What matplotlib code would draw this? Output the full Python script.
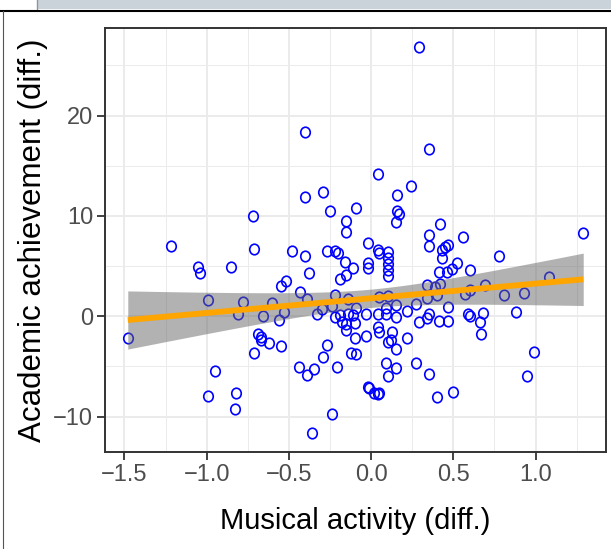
import numpy as np
import matplotlib
matplotlib.use('Agg')
from matplotlib import pyplot
from matplotlib.path import Path
from matplotlib.transforms import Affine2D
from matplotlib.lines import Line2D
from matplotlib.patches import Rectangle
from matplotlib.ticker import MultipleLocator

# values
music_diff = [
    -1.48, -1.22, -1.05, -1.04, -0.99, -0.95, -0.99, -0.82, -0.83, -0.85,
    -0.81, -0.78, -0.72, -0.71, -0.66, -0.69, -0.67, -0.67, -0.62, -0.71,
    -0.60, -0.55, -0.52, -0.55, -0.53, -0.56, -0.48, -0.44, -0.40, -0.40,
    -0.29, -0.25, -0.09, -0.15, -0.15, -0.40, -0.38, -0.43, -0.39, -0.39,
    -0.35, -0.21, -0.24, -0.36, -0.27, -0.22, -0.20, -0.16, -0.11, -0.15,
    -0.19, -0.22, -0.14, -0.33, -0.30, -0.24, -0.22, -0.19, -0.14, -0.11,
    -0.09, -0.18, -0.15, -0.10, -0.27, -0.29, -0.12, -0.09, -0.10, -0.15,
    -0.02, 0.04, 0.05, 0.10, 0.10, 0.10, 0.10, 0.10, -0.02, -0.02,
    0.05, 0.10, -0.03, 0.04, 0.04, 0.05, 0.09, 0.09, 0.15, 0.15,
    -0.03, 0.13, 0.12, 0.10, 0.15, 0.22, 0.09, 0.10, 0.15, 0.27,
    0.35, -0.02, -0.01, 0.02, 0.04, 0.05, 0.40, 0.50, 0.04, 0.24,
    0.16, 0.16, 0.17, 0.15, 0.29, 0.35, 0.42, 0.35, 0.35, 0.56,
    0.43, 0.45, 0.47, 0.43, 0.52, 0.41, 0.46, 0.49, 0.60, 0.34,
    0.39, 0.42, 0.69, 0.78, 1.29, 1.08, 0.40, 0.34, 0.57, 0.60,
    0.81, 0.93, 0.27, 0.22, 0.47, 0.35, 0.34, 0.29, 0.41, 0.47,
    0.59, 0.60, 0.68, 0.66, 0.67, 0.88, 0.99, 0.95,
]
achieve_diff = [
    -2.2, 7.0, 4.9, 4.3, 1.6, -5.5, -7.9, -7.6, -9.2, 4.9,
    0.2, 1.4, 10.0, 6.7, 0.0, -1.8, -2.1, -2.4, -2.7, -3.7,
    1.3, -3.0, 3.5, 3.0, 0.4, -0.4, 6.5, -5.1, 18.4, 11.9,
    12.4, 10.5, 10.8, 9.5, 8.4, 6.0, 4.3, 2.4, 1.7, -5.8,
    -5.3, -5.1, -9.7, -11.6, 6.5, 6.5, 6.3, 5.4, 4.8, 4.1,
    3.7, 2.1, 1.7, 0.2, 0.7, 1.0, -0.1, 0.1, 0.2, 0.1,
    0.8, -0.6, -0.8, -0.7, -2.9, -4.1, -3.7, -3.8, -2.2, -1.4,
    7.3, 6.6, 6.3, 6.4, 5.8, 5.2, 4.6, 4.0, 5.3, 4.8,
    1.9, 2.0, 0.2, 0.2, -1.1, -1.6, 0.8, 0.2, 1.1, -0.1,
    -2.0, -1.6, -2.4, -2.6, -3.3, -2.2, -4.7, -5.9, -5.2, -4.7,
    -5.7, -7.0, -7.1, -7.6, -7.7, -7.6, -8.0, -7.5, 14.2, 13.0,
    12.1, 10.5, 10.2, 9.4, 26.8, 16.7, 9.2, 8.1, 7.0, 7.9,
    6.6, 6.9, 7.1, 5.8, 5.3, 4.4, 4.4, 4.7, 4.6, 3.1,
    2.9, 3.2, 3.1, 6.0, 8.3, 3.9, 2.1, 1.8, 2.2, 2.6,
    2.1, 2.3, 1.2, 0.5, 0.9, 0.2, -0.2, -0.6, -0.5, -0.5,
    0.2, 0.0, 0.3, -0.6, -1.8, 0.4, -3.6, -5.9,
]
x_ticks = [-1.5, -1.0, -0.5, 0.0, 0.5, 1.0]
y_ticks = [-10, 0, 10, 20]
x_title = 'Musical activity (diff.)'
y_title = 'Academic achievement (diff.)'

pyplot.rcParams['font.family'] = ['Liberation Sans', 'DejaVu Sans']

x = np.array(music_diff)
y = np.array(achieve_diff)

# linear fit with 95% confidence band (like geom_smooth(method = "lm"))
n = len(x)
slope, intercept = np.polyfit(x, y, 1)
resid = y - (intercept + slope * x)
s = np.sqrt(np.sum(resid ** 2) / (n - 2))
sxx = np.sum((x - x.mean()) ** 2)
t_crit = 1.975  # t(0.975, ~155 df)
xs = np.linspace(x.min(), x.max(), 100)
fit = intercept + slope * xs
se = s * np.sqrt(1.0 / n + (xs - x.mean()) ** 2 / sxx)

fig = pyplot.figure(figsize=(6.11, 5.49), dpi=100, facecolor='white')
ax = fig.add_axes([105 / 611, (549 - 452) / 549, 501 / 611, 424 / 549])

ell = Path.unit_circle().transformed(Affine2D().scale(0.9, 1.0))
ax.plot(x, y, linestyle='none', marker=ell, markersize=7.6, markerfacecolor='none',
        markeredgecolor='#0000FF', markeredgewidth=1.2, zorder=2)
ax.fill_between(xs, fit - t_crit * se, fit + t_crit * se, color='#666666', alpha=0.5,
                linewidth=0, zorder=3)
ax.plot(xs, fit, color='#FFA500', linewidth=4.2, zorder=4, solid_capstyle='butt')

ax.margins(x=0.05, y=0.05)
ax.set_xticks(x_ticks)
ax.set_yticks(y_ticks)
ax.set_xticklabels([f'{v:.1f}'.replace('-', '\u2212') for v in x_ticks])
ax.set_yticklabels([f'{v}'.replace('-', '\u2212') for v in y_ticks])
ax.xaxis.set_minor_locator(MultipleLocator(0.25))
ax.yaxis.set_minor_locator(MultipleLocator(5))
ax.set_axisbelow(True)
ax.grid(which='major', color='#EBEBEB', linewidth=1.4)
ax.grid(which='minor', color='#EBEBEB', linewidth=0.7)
ax.tick_params(which='major', length=5.5, width=1.3, color='#333333',
               labelcolor='#4D4D4D', labelsize=17, pad=3)
ax.tick_params(which='minor', length=0)
for sp in ax.spines.values():
    sp.set_color('#333333')
    sp.set_linewidth(1.4)

ax.set_xlabel(x_title, fontsize=21, color='black', labelpad=15)
ax.set_ylabel(y_title, fontsize=22.5, color='black', labelpad=4)

# page decoration around the chart
fig.patches.append(Rectangle((37 / 611, 1 - 9 / 549), 1, 9 / 549, transform=fig.transFigure,
                             facecolor='#C9D3D9', edgecolor='none'))
fig.lines.append(Line2D([37 / 611, 37 / 611], [1, 1 - 9 / 549], transform=fig.transFigure,
                        color='#8C969C', linewidth=1.0))
fig.lines.append(Line2D([0, 1], [1 - 10.5 / 549, 1 - 10.5 / 549], transform=fig.transFigure,
                        color='black', linewidth=1.5))
fig.lines.append(Line2D([3 / 611, 3 / 611], [0, 1 - 11 / 549], transform=fig.transFigure,
                        color='#555555', linewidth=0.8))

pyplot.savefig('out.png', dpi=100, facecolor='white')
